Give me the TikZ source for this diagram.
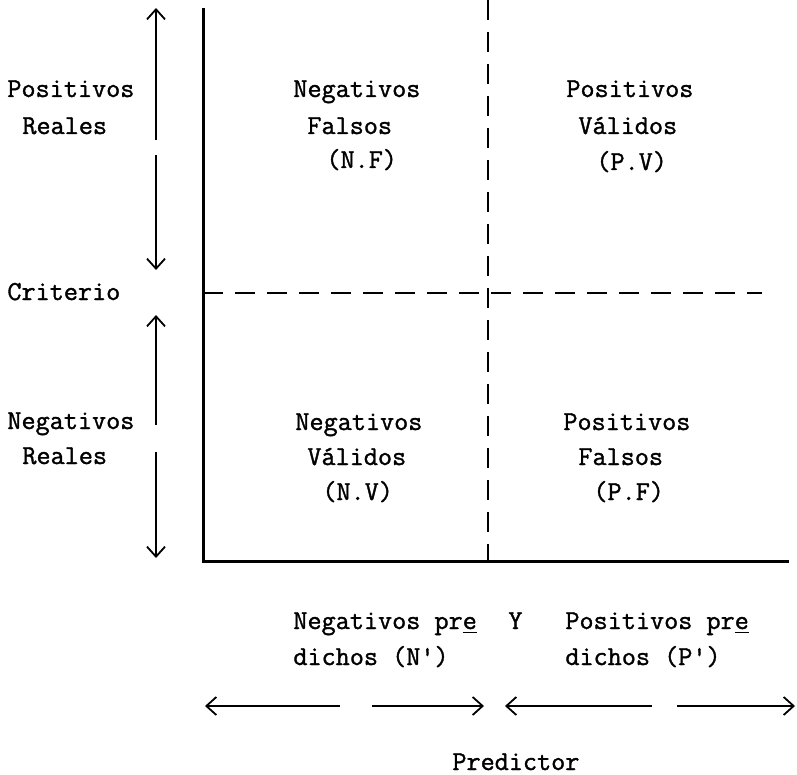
\documentclass[tikz,border=0pt]{standalone}
\usepackage{fontspec}
\newfontfamily\twfont{Latin Modern Mono}[FakeBold=1.3]
\usetikzlibrary{arrows.meta}
\newcommand{\ulch}[1]{\rlap{\rule[-2.2pt]{7.2pt}{0.9pt}}#1}
\begin{document}
\begin{tikzpicture}[x=0.5pt,y=-0.5pt,
  lbl/.style={anchor=base west, inner sep=0pt, font=\twfont\fontsize{13.7pt}{15pt}\selectfont},
  axisline/.style={line width=1.5pt},
  dashline/.style={line width=1pt, dash pattern=on 10pt off 6pt},
  arr/.style={line width=0.9pt, -{Straight Barb[length=5pt,width=9pt,line width=0.9pt]}}]
\useasboundingbox (0,0) rectangle (797,775);
% axes
\coordinate (ytop) at (203,8);
\coordinate (orig) at (203,561);
\coordinate (xend) at (789,561);
\draw[axisline] (ytop) -- (orig) -- (xend);
% dashed dividers
\coordinate (vtop) at (488,0);
\coordinate (vbot) at (488,561);
\coordinate (hl) at (203,293);
\coordinate (hr) at (762,293);
\draw[dashline] (vtop) -- (vbot);
\draw[dashline] (hl) -- (hr);
% left arrows
\coordinate (a1) at (156,8);   \coordinate (a1b) at (156,140);
\coordinate (a2) at (156,270); \coordinate (a2b) at (156,155);
\coordinate (a3) at (156,315); \coordinate (a3b) at (156,425);
\coordinate (a4) at (156,558); \coordinate (a4b) at (156,452);
\draw[arr] (a1b) -- (a1);
\draw[arr] (a2b) -- (a2);
\draw[arr] (a3b) -- (a3);
\draw[arr] (a4b) -- (a4);
% bottom arrows
\coordinate (b1) at (205,706); \coordinate (b1b) at (340,706);
\coordinate (b2) at (484,706); \coordinate (b2b) at (372,706);
\coordinate (b3) at (505,706); \coordinate (b3b) at (652,706);
\coordinate (b4) at (795,706); \coordinate (b4b) at (677,706);
\draw[arr] (b1b) -- (b1);
\draw[arr] (b2b) -- (b2);
\draw[arr] (b3b) -- (b3);
\draw[arr] (b4b) -- (b4);
% left labels
\node[lbl] (pr1) at (7,97) {Positivos};
\node[lbl] (pr2) at (22,134) {Reales};
\node[lbl] (crit) at (7,300) {Criterio};
\node[lbl] (nr1) at (7,429) {Negativos};
\node[lbl] (nr2) at (22,464) {Reales};
% quadrants
\node[lbl] (nf1) at (293,97) {Negativos};
\node[lbl] (nf2) at (307,134) {Falsos};
\node[lbl] (nf3) at (326,168) {(N.F)};
\node[lbl] (pv1) at (566,97) {Positivos};
\node[lbl] (pv2) at (578,134) {Válidos};
\node[lbl] (pv3) at (596,170) {(P.V)};
\node[lbl] (nv1) at (295,430) {Negativos};
\node[lbl] (nv2) at (307,465) {Válidos};
\node[lbl] (nv3) at (322,500) {(N.V)};
\node[lbl] (pf1) at (563,430) {Positivos};
\node[lbl] (pf2) at (578,465) {Falsos};
\node[lbl] (pf3) at (593,500) {(P.F)};
% bottom labels
\node[lbl] (np1) at (293,629) {Negativos pr\ulch{e}};
\node[lbl] (yy) at (508,629) {Y};
\node[lbl] (pp1) at (565,629) {Positivos pr\ulch{e}};
\node[lbl] (np2) at (293,665) {dichos (N\textquotesingle)};
\node[lbl] (pp2) at (565,665) {dichos (P\textquotesingle)};
\node[lbl] (pred) at (452,770) {Predictor};
\end{tikzpicture}
\end{document}
